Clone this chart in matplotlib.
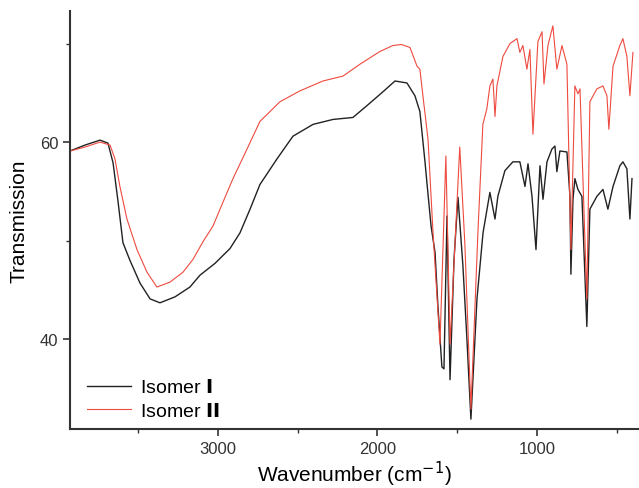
import matplotlib
matplotlib.use("Agg")
import matplotlib.pyplot as plt
from matplotlib.ticker import FixedLocator

plt.rcParams['font.family'] = ['Liberation Sans', 'DejaVu Sans']

# Isomer I (black)
wn_1 = [3928, 3834, 3740, 3690, 3658, 3627, 3596, 3552, 3489, 3426, 3364, 3270, 3176, 3113,
        3019, 2925, 2862, 2799, 2737, 2630, 2530, 2404, 2279, 2154, 2066, 1966, 1890, 1815,
        1765, 1734, 1702, 1690, 1664, 1639, 1621, 1596, 1583, 1564, 1545, 1520, 1495, 1464,
        1439, 1414, 1376, 1338, 1295, 1263, 1245, 1201, 1151, 1107, 1075, 1056, 1031, 1006,
        981, 962, 937, 906, 887, 875, 856, 812, 793, 787, 774, 762, 743, 718, 687, 668, 624,
        586, 555, 523, 480, 461, 436, 417, 404]
tr_1 = [59.1, 59.7, 60.2, 59.9, 57.9, 54.0, 49.8, 48.0, 45.7, 44.1, 43.7, 44.3, 45.3, 46.5,
        47.7, 49.2, 50.8, 53.2, 55.7, 58.3, 60.6, 61.8, 62.3, 62.5, 63.7, 65.1, 66.2, 66.0,
        64.7, 63.1, 58.0, 55.9, 51.5, 48.8, 43.4, 37.2, 37.0, 52.5, 35.9, 48.1, 54.4, 47.4,
        40.0, 31.9, 44.1, 50.8, 54.9, 52.2, 54.5, 57.1, 58.0, 58.0, 55.5, 57.8, 54.5, 49.1,
        57.6, 54.2, 58.0, 59.3, 59.6, 57.0, 59.1, 59.0, 54.5, 46.6, 54.2, 56.3, 55.2, 54.5,
        41.3, 53.2, 54.5, 55.2, 53.2, 55.5, 57.6, 58.0, 57.3, 52.2, 56.3]

# Isomer II (red)
wn_2 = [3928, 3834, 3740, 3677, 3646, 3615, 3571, 3508, 3445, 3383, 3301, 3220, 3157, 3094,
        3031, 2969, 2906, 2818, 2737, 2611, 2486, 2342, 2216, 2110, 1984, 1903, 1850, 1796, 1752,
        1734, 1715, 1683, 1652, 1608, 1571, 1545, 1484, 1452, 1414, 1370, 1339, 1314, 1295,
        1276, 1263, 1251, 1213, 1169, 1125, 1107, 1088, 1063, 1044, 1025, 994, 968, 956, 931,
        900, 875, 843, 812, 787, 762, 743, 730, 687, 668, 624, 586, 561, 549, 523, 480, 461,
        436, 417, 398]
tr_2 = [59.1, 59.5, 60.0, 59.7, 58.3, 55.5, 52.2, 49.1, 46.8, 45.3, 45.8, 46.8, 48.1, 49.9,
        51.5, 53.9, 56.3, 59.3, 62.1, 64.1, 65.2, 66.2, 66.7, 67.9, 69.2, 69.8, 69.9, 69.6, 67.7,
        67.4, 64.7, 60.3, 50.9, 39.5, 58.6, 39.5, 59.5, 49.7, 32.9, 50.9, 61.8, 63.4, 65.7,
        66.4, 62.6, 65.7, 68.7, 70.0, 70.5, 69.1, 69.8, 67.4, 69.4, 60.8, 70.2, 71.2, 65.9,
        69.8, 71.8, 67.4, 69.8, 67.9, 49.1, 65.7, 64.9, 65.4, 44.1, 64.1, 65.4, 65.7, 64.7,
        61.3, 67.7, 69.8, 70.5, 68.7, 64.7, 69.1]

labels = ['Isomer $\\mathbf{I}$', 'Isomer $\\mathbf{II}$']

fig = plt.figure(figsize=(6.39, 4.89), dpi=100)
ax = fig.add_axes([70/639, 1 - 430/489, (639 - 70)/639, (430 - 12)/489])

ax.plot(wn_1, tr_1, color='#222222', lw=1.0, label=labels[0])
ax.plot(wn_2, tr_2, color='#ee4a3e', lw=0.8, label=labels[1])

ax.set_xlim(3928, 360)
ax.set_ylim(30.9, 73.3)

for s in ['top', 'right']:
    ax.spines[s].set_visible(False)
for s in ['left', 'bottom']:
    ax.spines[s].set_linewidth(1.5)
    ax.spines[s].set_color('#333333')

ax.xaxis.set_major_locator(FixedLocator([3000, 2000, 1000]))
ax.xaxis.set_minor_locator(FixedLocator([3500, 2500, 1500, 500]))
ax.yaxis.set_major_locator(FixedLocator([40, 60]))
ax.yaxis.set_minor_locator(FixedLocator([50, 70]))
ax.tick_params(which='major', direction='out', length=5, width=1.2, labelsize=12, colors='#333333')
ax.tick_params(which='minor', direction='out', length=3, width=1.0, colors='#333333')

ax.set_xlabel('Wavenumber (cm$^{-1}$)', fontsize=15, labelpad=2)
ax.set_ylabel('Transmission', fontsize=15, labelpad=8)

ax.legend(loc='lower left', bbox_to_anchor=(-0.012, -0.035), frameon=False, fontsize=14,
          handlelength=2.3, handletextpad=0.45, labelspacing=0.3, borderaxespad=0.8)

fig.savefig('out.png', dpi=100)
